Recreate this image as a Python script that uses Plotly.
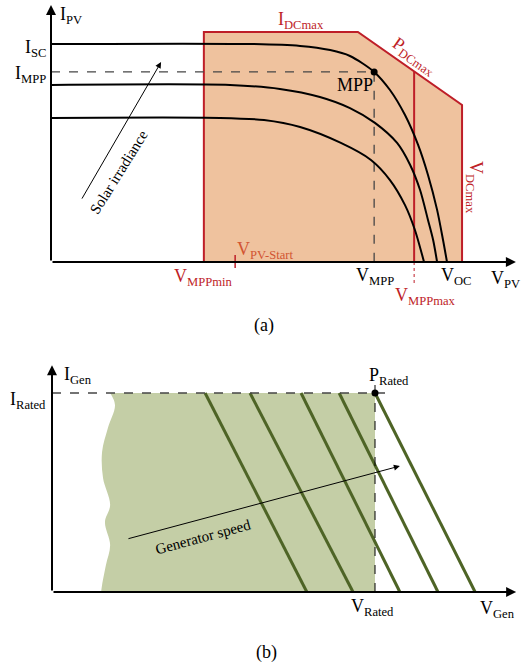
import plotly.graph_objects as go

# ---------------- (a) PV I-V data (V in % of V_OC, I in % of I_SC) ----------------
pv1_v = [0, 50.3, 62.9, 70.5, 75.5, 81.6, 85.6, 89.4, 92.7, 95.2, 97.5, 99.0, 100]
pv1_i = [100, 100, 99.1, 97.2, 94.5, 87.2, 78.9, 67.4, 53.7, 39.9, 23.9, 10.1, 0]
pv2_v = [0, 45.2, 57.8, 67.9, 75.5, 81.8, 87.4, 90.7, 93.2, 95.2, 96.5, 97.5]
pv2_i = [81.2, 81.2, 79.4, 75.7, 70.6, 63.8, 54.6, 44.5, 33.0, 19.3, 10.1, 0]
pv3_v = [0, 42.7, 53.8, 62.9, 73.2, 80.8, 85.6, 89.4, 91.9, 94.2]
pv3_i = [66.1, 66.1, 65.1, 61.9, 54.6, 46.8, 37.6, 26.1, 14.7, 0]

V_MPPMIN = 38.6
V_PV_START = 46.5
V_MPP = 81.6
I_MPP = 87.2
V_MPPMAX = 91.7
V_DCMAX = 103.8
I_DCMAX = 105.5
V_PDC_KNEE = 77.5     # I_DCmax limit meets P_DCmax limit
I_PDC_END = 72.0      # P_DCmax limit at V_DCmax
V_AXIS_END = 117.4
I_AXIS_END = 117.9

# ---------------- (b) generator data (V in % of V_Rated, I in % of I_Rated) ----------------
gen_top_v = [47.4, 61.3, 77.1, 88.9, 100.0]   # at I_Rated
gen_bot_v = [78.9, 93.2, 107.7, 119.5, 131.0]  # at I = 0
wavy_v = [18.0, 19.5, 17.3, 15.5, 15.8, 18.0, 16.4, 18.0, 16.7, 15.5, 15.2]
wavy_i = [100, 94.0, 82.4, 70.4, 57.3, 43.7, 35.2, 23.6, 13.6, 3.5, 0]
V_RATED = 100
I_RATED = 100
V_GEN_AXIS_END = 143.7
I_GEN_AXIS_END = 114.0

# ---------------- layout calibration ----------------
W, H = 528, 664
A_X0, A_XS, A_Y0, A_YS = 51, 3.96, 262, 2.18
B_X0, B_XS, B_Y0, B_YS = 52, 3.23, 592, 1.99
A_TOP, A_BOT = 0, 310
B_TOP, B_BOT = 340, 664

FONT = "Liberation Serif, Times New Roman, Times, serif"
RED = "rgb(190,30,40)"
ORANGE = "rgb(210,85,50)"
PEACH = "rgb(239,194,158)"
GREEN_FILL = "rgb(196,206,166)"
GREEN_LINE = "rgb(78,100,38)"
DASH = "rgb(70,70,70)"

fig = go.Figure()

# --- (a) operating window ---
win_v = [V_MPPMIN, V_MPPMIN, V_PDC_KNEE, V_DCMAX, V_DCMAX, V_MPPMIN]
win_i = [0, I_DCMAX, I_DCMAX, I_PDC_END, 0, 0]
fig.add_trace(go.Scatter(x=win_v, y=win_i, mode="lines", fill="toself",
                         fillcolor=PEACH, line=dict(color=RED, width=2),
                         xaxis="x", yaxis="y", hoverinfo="skip"))
i_top_mppmax = I_DCMAX - (V_MPPMAX - V_PDC_KNEE) / (V_DCMAX - V_PDC_KNEE) * (I_DCMAX - I_PDC_END)
fig.add_trace(go.Scatter(x=[V_MPPMAX, V_MPPMAX], y=[0, i_top_mppmax], mode="lines",
                         line=dict(color=RED, width=2), xaxis="x", yaxis="y"))
fig.add_trace(go.Scatter(x=[V_MPPMAX, V_MPPMAX], y=[0, -10.5], mode="lines",
                         line=dict(color=RED, width=1, dash="dot"), xaxis="x", yaxis="y"))
fig.add_trace(go.Scatter(x=[V_PV_START, V_PV_START], y=[-2.8, 3.2], mode="lines",
                         line=dict(color=RED, width=1.5), xaxis="x", yaxis="y"))
fig.add_trace(go.Scatter(x=[0, V_MPP, V_MPP], y=[I_MPP, I_MPP, 0], mode="lines",
                         line=dict(color=DASH, width=1.3, dash="dash"), xaxis="x", yaxis="y"))
for cv, ci in [(pv1_v, pv1_i), (pv2_v, pv2_i), (pv3_v, pv3_i)]:
    fig.add_trace(go.Scatter(x=cv, y=ci, mode="lines",
                             line=dict(color="black", width=2, shape="spline", smoothing=0.8),
                             xaxis="x", yaxis="y"))
fig.add_trace(go.Scatter(x=[V_MPP], y=[I_MPP], mode="markers",
                         marker=dict(color="black", size=7), xaxis="x", yaxis="y"))

# --- (b) generator region ---
fig.add_trace(go.Scatter(x=[V_RATED, V_RATED], y=[I_RATED, 0], mode="lines",
                         line=dict(width=0, color=GREEN_FILL), xaxis="x2", yaxis="y2", hoverinfo="skip"))
fig.add_trace(go.Scatter(x=wavy_v, y=wavy_i, mode="lines", fill="tonextx", fillcolor=GREEN_FILL,
                         line=dict(width=0, color=GREEN_FILL, shape="spline"), xaxis="x2", yaxis="y2"))
gx, gy = [], []
for t, b in zip(gen_top_v, gen_bot_v):
    gx += [t, b, None]
    gy += [I_RATED, 0, None]
fig.add_trace(go.Scatter(x=gx, y=gy, mode="lines", line=dict(color=GREEN_LINE, width=3),
                         xaxis="x2", yaxis="y2"))
fig.add_trace(go.Scatter(x=[0, V_RATED + 4], y=[I_RATED, I_RATED], mode="lines",
                         line=dict(color=DASH, width=1.3, dash="dash"), xaxis="x2", yaxis="y2"))
fig.add_trace(go.Scatter(x=[V_RATED, V_RATED], y=[0, I_RATED + 5], mode="lines",
                         line=dict(color="black", width=1, dash="dash"), xaxis="x2", yaxis="y2"))
fig.add_trace(go.Scatter(x=[V_RATED], y=[I_RATED], mode="markers",
                         marker=dict(color="black", size=7), xaxis="x2", yaxis="y2"))

ann = []
def arrow(x, y, ax, ay, xr, yr, width=2, size=1.0, head=2):
    return dict(x=x, y=y, ax=ax, ay=ay, xref=xr, yref=yr, axref=xr, ayref=yr, text="",
                showarrow=True, arrowhead=head, arrowsize=size, arrowwidth=width, arrowcolor="black",
                standoff=0, startstandoff=0)
ann.append(arrow(0, I_AXIS_END, 0, 0, "x", "y"))
ann.append(arrow(V_AXIS_END, 0, 0, 0, "x", "y"))
ann.append(arrow(0, I_GEN_AXIS_END, 0, 0, "x2", "y2"))
ann.append(arrow(V_GEN_AXIS_END, 0, 0, 0, "x2", "y2"))
ann.append(arrow(27.8, 91.7, 7.6, 28.4, "x", "y", width=1, size=1.2))
ann.append(arrow(107.7, 63.3, 23.2, 26.6, "x2", "y2", width=1, size=1.2))

def label(text, px, py, color="black", size=18, angle=0, xanchor="center"):
    return dict(text=text, x=px / W, y=1 - py / H, xref="paper", yref="paper", showarrow=False,
                xanchor=xanchor, yanchor="middle", textangle=angle,
                font=dict(family=FONT, size=size, color=color))

ann += [
    label("I<sub>PV</sub>", 58, 16, xanchor="left"),
    label("I<sub>SC</sub>", 48, 48, xanchor="right"),
    label("I<sub>MPP</sub>", 48, 74, xanchor="right"),
    label("I<sub>DCmax</sub>", 301, 21, color=RED),
    label("P<sub>DCmax</sub>", 414, 57, color=RED, angle=35),
    label("MPP", 355, 85),
    label("V<sub>DCmax</sub>", 474, 187, color=RED, angle=90),
    label("V<sub>MPPmin</sub>", 203, 277, color=RED),
    label("V<sub>PV-Start</sub>", 265, 250, color=ORANGE),
    label("V<sub>MPP</sub>", 375, 276),
    label("V<sub>OC</sub>", 456, 276),
    label("V<sub>PV</sub>", 505, 279),
    label("V<sub>MPPmax</sub>", 425, 296, color=RED),
    label("(a)", 264, 325),
    label("Solar irradiance", 119, 172, size=15, angle=-58),
    label("I<sub>Gen</sub>", 62, 375, xanchor="left"),
    label("I<sub>Rated</sub>", 48, 400, xanchor="right"),
    label("P<sub>Rated</sub>", 389, 377),
    label("V<sub>Rated</sub>", 372, 607),
    label("V<sub>Gen</sub>", 497, 609),
    label("(b)", 266, 652),
    label("Generator speed", 203, 537, size=15, angle=-15),
]

fig.update_layout(
    width=W, height=H, margin=dict(l=0, r=0, t=0, b=0),
    paper_bgcolor="white", plot_bgcolor="white", showlegend=False,
    font=dict(family=FONT),
    xaxis=dict(domain=[0, 1], range=[(0 - A_X0) / A_XS, (W - A_X0) / A_XS], visible=False, anchor="y"),
    yaxis=dict(domain=[1 - A_BOT / H, 1 - A_TOP / H], range=[(A_Y0 - A_BOT) / A_YS, (A_Y0 - A_TOP) / A_YS],
               visible=False, anchor="x"),
    xaxis2=dict(domain=[0, 1], range=[(0 - B_X0) / B_XS, (W - B_X0) / B_XS], visible=False, anchor="y2"),
    yaxis2=dict(domain=[1 - B_BOT / H, 1 - B_TOP / H], range=[(B_Y0 - B_BOT) / B_YS, (B_Y0 - B_TOP) / B_YS],
                visible=False, anchor="x2"),
    annotations=ann,
)

fig.write_html("out.html", config={"displayModeBar": False},
               post_script="document.body.style.margin='0px';")
